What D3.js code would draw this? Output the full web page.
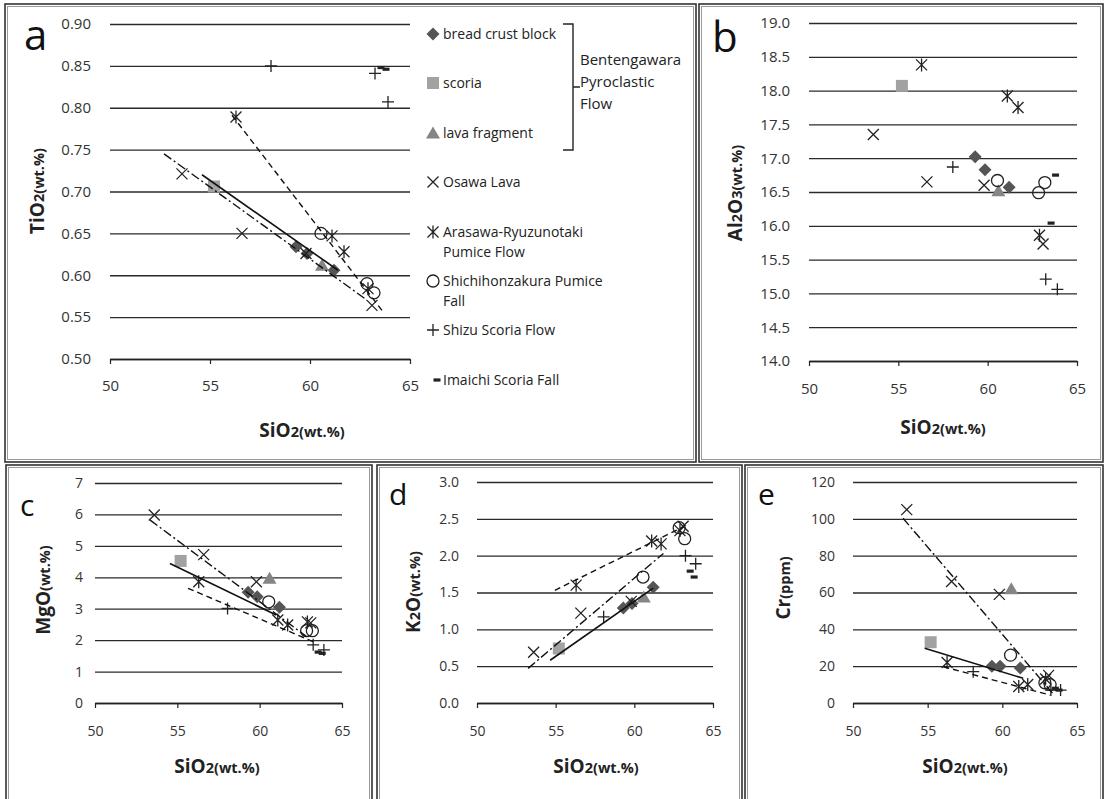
<!DOCTYPE html>
<html>
<head>
<meta charset="utf-8">
<script src="https://cdn.jsdelivr.net/npm/d3@7"></script>
<style>
body { margin: 0; background: #fff; }
svg { display: block; font-family: "Open Sans", sans-serif; }
</style>
</head>
<body>
<svg id="chart" width="1106" height="799"></svg>
<script>
// values (SiO2 vs oxides)
const xTicks = [50, 55, 60, 65];
const tiTicks = [0.50, 0.55, 0.60, 0.65, 0.70, 0.75, 0.80, 0.85, 0.90];
const alTicks = [14.0, 14.5, 15.0, 15.5, 16.0, 16.5, 17.0, 17.5, 18.0, 18.5, 19.0];
const mgTicks = [0, 1, 2, 3, 4, 5, 6, 7];
const kTicks = [0.0, 0.5, 1.0, 1.5, 2.0, 2.5, 3.0];
const crTicks = [0, 20, 40, 60, 80, 100, 120];

// Bentengawara Pyroclastic Flow
const breadCrust = [
  {si: 59.3, ti: 0.634, al: 17.02, mg: 3.52, k: 1.29, cr: 20},
  {si: 59.85, ti: 0.626, al: 16.83, mg: 3.38, k: 1.35, cr: 20},
  {si: 61.2, ti: 0.606, al: 16.57, mg: 3.05, k: 1.57, cr: 19}
];
const scoria = [
  {si: 55.2, ti: 0.706, al: 18.07, mg: 4.52, k: 0.74, cr: 33}
];
const lavaFragment = [
  {si: 60.6, ti: 0.612, al: 16.52, mg: 3.97, k: 1.44, cr: 62}
];
const osawaLava = [
  {si: 53.6, ti: 0.721, al: 17.35, mg: 5.98, k: 0.69, cr: 105},
  {si: 56.6, ti: 0.650, al: 16.65, mg: 4.72, k: 1.22, cr: 66},
  {si: 59.8, ti: 0.626, al: 16.60, mg: 3.86, k: 1.38, cr: 59},
  {si: 63.1, ti: 0.564, al: 15.73, mg: 2.55, k: 2.40, cr: 15}
];
const arasawa = [
  {si: 56.3, ti: 0.789, al: 18.38, mg: 3.86, k: 1.60, cr: 22},
  {si: 61.1, ti: 0.647, al: 17.92, mg: 2.64, k: 2.20, cr: 9},
  {si: 61.7, ti: 0.628, al: 17.75, mg: 2.48, k: 2.16, cr: 10},
  {si: 62.9, ti: 0.584, al: 15.86, mg: 2.58, k: 2.34, cr: 13}
];
const shichihon = [
  {si: 60.55, ti: 0.650, al: 16.67, mg: 3.22, k: 1.71, cr: 26},
  {si: 62.85, ti: 0.590, al: 16.49, mg: 2.30, k: 2.38, cr: 11},
  {si: 63.2, ti: 0.579, al: 16.64, mg: 2.30, k: 2.23, cr: 10}
];
const shizu = [
  {si: 58.05, ti: 0.850, al: 16.87, mg: 3.01, k: 1.17, cr: 17},
  {si: 63.25, ti: 0.841, al: 15.21, mg: 1.85, k: 2.00, cr: 7},
  {si: 63.9, ti: 0.807, al: 15.06, mg: 1.69, k: 1.89, cr: 7}
];
const imaichi = [
  {si: 63.55, ti: 0.848, al: 16.04, mg: 1.62, k: 1.79, cr: 8},
  {si: 63.8, ti: 0.846, al: 16.75, mg: 1.58, k: 1.71, cr: 7}
];

// trend lines [si0, v0, si1, v1]: Bentengawara, Osawa, third group
const trendTi = [[54.6, 0.720, 61.4, 0.606], [52.7, 0.745, 62.75, 0.572], [56.1, 0.791, 63.6, 0.558]];
const trendAl = [];
const trendMg = [[54.55, 4.44, 61.0, 2.80], [53.35, 5.82, 62.85, 2.11], [55.65, 3.65, 63.25, 1.95]];
const trendK = [[54.65, 0.58, 61.2, 1.56], [53.25, 0.47, 61.85, 2.03], [54.95, 1.53, 63.1, 2.39]];
const trendCr = [[54.8, 29.7, 61.4, 13.4], [53.35, 100.3, 63.4, 5], [56.05, 19.7, 63.2, 4.3]];

const series = [
  {name: "bread crust block", data: breadCrust, shape: "diamond"},
  {name: "scoria", data: scoria, shape: "square"},
  {name: "lava fragment", data: lavaFragment, shape: "triangle"},
  {name: "Osawa Lava", data: osawaLava, shape: "x"},
  {name: "Arasawa-Ryuzunotaki Pumice Flow", data: arasawa, shape: "asterisk"},
  {name: "Shichihonzakura Pumice Fall", data: shichihon, shape: "circle"},
  {name: "Shizu Scoria Flow", data: shizu, shape: "plus"},
  {name: "Imaichi Scoria Fall", data: imaichi, shape: "dash"}
];
const trendDash = [null, "9,3,2,3", "6,4"];

const ink = "#222";
const svg = d3.select("#chart");

function marker(sel, shape, x, y) {
  const g = sel.append("g").attr("transform", `translate(${x},${y})`);
  if (shape === "diamond") g.append("path").attr("d", "M0,-6.5L6.5,0L0,6.5L-6.5,0Z").attr("fill", "#555");
  else if (shape === "square") g.append("rect").attr("x", -6).attr("y", -6).attr("width", 12).attr("height", 12).attr("fill", "#a2a2a2");
  else if (shape === "triangle") g.append("path").attr("d", "M0,-6.5L7,5.5L-7,5.5Z").attr("fill", "#858585");
  else if (shape === "x") g.append("path").attr("d", "M-5.5,-5.5L5.5,5.5M5.5,-5.5L-5.5,5.5").attr("stroke", ink).attr("stroke-width", 1.3);
  else if (shape === "asterisk") g.append("path").attr("d", "M-5.5,-5.5L5.5,5.5M5.5,-5.5L-5.5,5.5M0,-6.5L0,6.5").attr("stroke", ink).attr("stroke-width", 1.3);
  else if (shape === "circle") g.append("circle").attr("r", 6).attr("fill", "none").attr("stroke", ink).attr("stroke-width", 1.3);
  else if (shape === "plus") g.append("path").attr("d", "M-6,0L6,0M0,-6L0,6").attr("stroke", ink).attr("stroke-width", 1.3);
  else if (shape === "dash") g.append("rect").attr("x", -3.5).attr("y", -1.6).attr("width", 7).attr("height", 3.2).attr("fill", ink);
}

// write a title made of big and small bold parts
function title(sel, parts, x, y, rotate) {
  const t = sel.append("text")
    .attr("transform", rotate ? `translate(${x},${y}) rotate(-90)` : `translate(${x},${y})`)
    .attr("text-anchor", "middle")
    .attr("font-weight", "bold")
    .attr("fill", ink);
  parts.forEach(p => t.append("tspan").attr("font-size", p[1] ? 19 : 14.5).text(p[0]));
}

const panels = [
  {key: "ti", letter: "a", box: [5, 4, 691, 458], px: [110, 410], py: [24, 359], ticks: tiTicks, fmt: ".2f", trend: trendTi,
   yPad: 19, xPad: 16, tickFont: 15, yTitle: [["TiO", 1], ["2(wt.%)", 0]], yT: [44, 191], xT: [302, 437], lt: [24, 50], ls: 42},
  {key: "al", letter: "b", box: [699, 4, 404, 458], px: [809, 1077], py: [23, 361], ticks: alTicks, fmt: ".1f", trend: trendAl,
   yPad: 19, xPad: 17, tickFont: 15, yTitle: [["Al", 1], ["2", 0], ["O", 1], ["3(wt.%)", 0]], yT: [742, 193], xT: [943, 434], lt: [712, 52], ls: 42},
  {key: "mg", letter: "c", box: [6, 465, 366, 340], px: [95, 342], py: [483, 703], ticks: mgTicks, fmt: "d", trend: trendMg,
   yPad: 12, xPad: 18, tickFont: 14, yTitle: [["MgO", 1], ["(wt.%)", 0]], yT: [50, 590], xT: [217, 773], lt: [20, 516], ls: 30},
  {key: "k", letter: "d", box: [377, 465, 365, 340], px: [477, 713], py: [482, 703], ticks: kTicks, fmt: ".1f", trend: trendK,
   yPad: 18, xPad: 18, tickFont: 14, yTitle: [["K", 1], ["2", 0], ["O", 1], ["(wt.%)", 0]], yT: [420, 592], xT: [596, 773], lt: [389, 505], ls: 30},
  {key: "cr", letter: "e", box: [745, 465, 358, 340], px: [853, 1077], py: [482, 703], ticks: crTicks, fmt: "d", trend: trendCr,
   yPad: 18, xPad: 18, tickFont: 14, yTitle: [["Cr", 1], ["(ppm)", 0]], yT: [790, 588], xT: [965, 773], lt: [758, 505], ls: 30}
];

panels.forEach(p => {
  const [bx, by, bw, bh] = p.box;
  // double frame
  svg.append("rect").attr("x", bx).attr("y", by).attr("width", bw).attr("height", bh)
    .attr("fill", "none").attr("stroke", "#333").attr("stroke-width", 1.6);
  svg.append("rect").attr("x", bx + 2.5).attr("y", by + 2.5).attr("width", bw - 5).attr("height", bh - 5)
    .attr("fill", "none").attr("stroke", "#9a9a9a").attr("stroke-width", 1);

  const x = d3.scaleLinear().domain([50, 65]).range(p.px);
  const y = d3.scaleLinear().domain(d3.extent(p.ticks)).range([p.py[1], p.py[0]]);
  const g = svg.append("g");

  const ya = g.append("g").attr("transform", `translate(${p.px[0]},0)`)
    .call(d3.axisLeft(y).tickValues(p.ticks).tickSize(-(p.px[1] - p.px[0])).tickPadding(p.yPad).tickFormat(d3.format(p.fmt)));
  ya.attr("font-size", p.tickFont).attr("font-family", "Open Sans");
  ya.select(".domain").remove();
  ya.selectAll("line").attr("stroke", "#2a2a2a").attr("stroke-width", 1.3);
  ya.selectAll("text").attr("fill", "#333");

  const xa = g.append("g").attr("transform", `translate(0,${p.py[1]})`)
    .call(d3.axisBottom(x).tickValues(xTicks).tickSize(5).tickSizeOuter(0).tickPadding(p.xPad).tickFormat(d3.format("d")));
  xa.attr("font-size", p.tickFont).attr("font-family", "Open Sans");
  xa.select(".domain").attr("stroke", ink).attr("stroke-width", 1.4);
  xa.selectAll("line").attr("stroke", ink).attr("stroke-width", 1.2);
  xa.selectAll("text").attr("fill", "#333");

  series.forEach(s => {
    s.data.forEach(d => {
      if (d[p.key] != null) marker(g, s.shape, x(d.si), y(d[p.key]));
    });
  });

  p.trend.forEach((t, i) => {
    g.append("line")
      .attr("x1", x(t[0])).attr("y1", y(t[1]))
      .attr("x2", x(t[2])).attr("y2", y(t[3]))
      .attr("stroke", "#111").attr("stroke-width", i === 0 ? 1.6 : 1.4)
      .attr("stroke-dasharray", trendDash[i]);
  });

  title(g, [["SiO", 1], ["2(wt.%)", 0]], p.xT[0], p.xT[1], false);
  title(g, p.yTitle, p.yT[0], p.yT[1], true);
  g.append("text").attr("x", p.lt[0]).attr("y", p.lt[1]).attr("font-size", p.ls).attr("fill", "#111").text(p.letter);
});

// legend in panel a
const legendRows = [
  {s: 0, lines: ["bread crust block"], y: 34},
  {s: 1, lines: ["scoria"], y: 83},
  {s: 2, lines: ["lava fragment"], y: 133},
  {s: 3, lines: ["Osawa Lava"], y: 182},
  {s: 4, lines: ["Arasawa-Ryuzunotaki", "Pumice Flow"], y: 232},
  {s: 5, lines: ["Shichihonzakura Pumice", "Fall"], y: 281},
  {s: 6, lines: ["Shizu Scoria Flow"], y: 330},
  {s: 7, lines: ["Imaichi Scoria Fall"], y: 380}
];
const lg = svg.append("g");
legendRows.forEach(r => {
  const s = series[r.s];
  marker(lg, s.shape, s.shape === "dash" ? 437 : 433, r.y);
  r.lines.forEach((l, i) => {
    lg.append("text").attr("x", 443).attr("y", r.y + 5 + i * 20)
      .attr("font-size", 14).attr("fill", ink).text(l);
  });
});
// bracket for the Bentengawara group
lg.append("path").attr("d", "M563,24H573V150H563M573,87H580")
  .attr("fill", "none").attr("stroke", ink).attr("stroke-width", 1.4);
["Bentengawara", "Pyroclastic", "Flow"].forEach((l, i) => {
  lg.append("text").attr("x", 580).attr("y", 65 + i * 22).attr("font-size", 15).attr("fill", ink).text(l);
});
</script>
</body>
</html>
